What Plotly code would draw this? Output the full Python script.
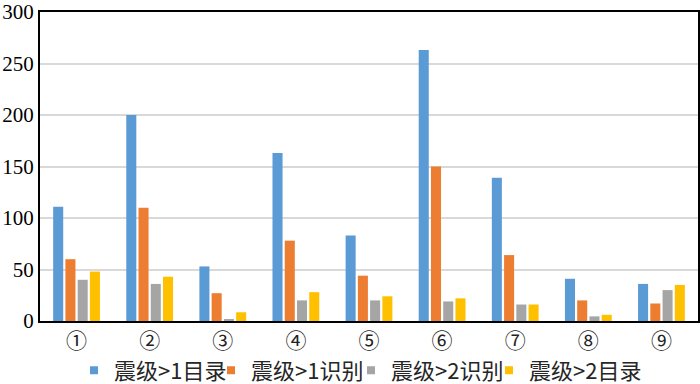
import plotly.graph_objects as go

categories = ["①", "②", "③", "④", "⑤", "⑥", "⑦", "⑧", "⑨"]
series_names = ["震级>1目录", "震级>1识别", "震级>2识别", "震级>2目录"]
m1_catalog = [111, 200, 53, 163, 83, 263, 139, 41, 36]
m1_detect = [60, 110, 27, 78, 44, 150, 64, 20, 17]
m2_detect = [40, 36, 1.5, 20, 20, 19, 16, 4.5, 30]
m2_catalog = [48, 43, 8.5, 28, 24, 22, 16, 6, 35]
y_ticks = [0, 50, 100, 150, 200, 250, 300]

colors = ["#5B9BD5", "#ED7D31", "#A5A5A5", "#FFC000"]
values = [m1_catalog, m1_detect, m2_detect, m2_catalog]
legend_ids = ["legend", "legend2", "legend3", "legend4"]
legend_text_px = [113, 250, 390, 528]

L, R, T, B, W, H = 40, 2, 12, 63, 700, 384
plot_w = W - L - R

fig = go.Figure()
for name, vals, c in zip(series_names, values, colors):
    fig.add_trace(go.Bar(x=categories, y=vals, name=name, marker_color=c,
                         marker_line_width=0, showlegend=False))
for name, c, lid in zip(series_names, colors, legend_ids):
    fig.add_trace(go.Scatter(x=[None], y=[None], mode="markers", name=name, legend=lid,
                             marker=dict(symbol="square", size=8, color=c)))

serif = "Liberation Serif"
layout_legends = {}
for lid, px in zip(legend_ids, legend_text_px):
    layout_legends[lid] = dict(
        orientation="h", x=(px - 39 - L) / plot_w, xanchor="left",
        y=-0.16, yanchor="middle",
        font=dict(family="Noto Sans CJK SC", size=22, color="#262626"),
        itemwidth=30, bgcolor="rgba(0,0,0,0)")

fig.update_layout(
    width=W, height=H, autosize=False,
    margin=dict(l=L, r=R, t=T, b=B, autoexpand=False),
    plot_bgcolor="white", paper_bgcolor="white",
    barmode="group", bargap=0.33, bargroupgap=0.18,
    font=dict(family=serif, size=21, color="black"),
    **layout_legends,
)
fig.update_xaxes(showline=True, linecolor="black", linewidth=2, mirror=True,
                 ticks="", automargin=False,
                 tickfont=dict(family="Noto Sans CJK SC", size=21, color="#222222"))
fig.update_yaxes(range=[0, 300], tickvals=y_ticks, showgrid=True, gridcolor="#D9D9D9",
                 gridwidth=1.5, showline=True, linecolor="black", linewidth=2, mirror=True,
                 zeroline=False, ticks="", automargin=False,
                 tickfont=dict(family=serif, size=21))

fig.write_html("out.html", config={"displayModeBar": False},
               post_script="document.body.style.margin='0px';")
